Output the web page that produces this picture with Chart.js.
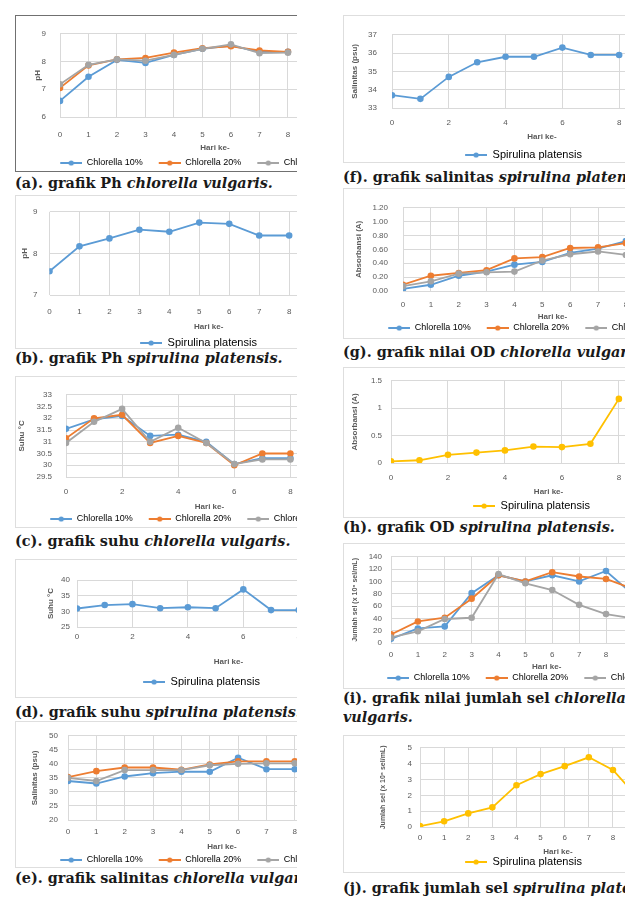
<!DOCTYPE html>
<html lang="id">
<head>
<meta charset="UTF-8">
<script src="https://cdn.jsdelivr.net/npm/chart.js"></script>
<title>Grafik kualitas air chlorella dan spirulina</title>
<style>
  body { margin: 0; width: 640px; height: 904px; background: #fff; position: relative; overflow: hidden; }
  .box { position: absolute; overflow: hidden; box-sizing: border-box; border: 1px solid #dedede; border-right: none; }
  .box canvas { position: absolute; left: -1px; top: -1px; }
  .cap { position: absolute; width: 282px; overflow: hidden; white-space: nowrap; font-family: "DejaVu Serif"; font-weight: bold; font-size: 14.4px; line-height: 19px; color: #1a1a1a; }
</style>
</head>
<body>
<script>
// hari pengamatan
const hari = [0, 1, 2, 3, 4, 5, 6, 7, 8];
const hariSel = [0, 1, 2, 3, 4, 5, 6, 7, 8, 9];

// pH
const phChlorella10 = [6.58, 7.45, 8.06, 7.95, 8.24, 8.46, 8.57, 8.35, 8.35];
const phChlorella20 = [7.05, 7.86, 8.08, 8.13, 8.32, 8.48, 8.55, 8.40, 8.35];
const phChlorella30 = [7.18, 7.88, 8.08, 8.03, 8.24, 8.46, 8.62, 8.30, 8.32];
const phSpirulina = [7.57, 8.17, 8.36, 8.57, 8.52, 8.74, 8.71, 8.43, 8.43];

// suhu (°C)
const suhuChlorella10 = [31.55, 31.95, 32.1, 31.25, 31.3, 31.0, 30.05, 30.3, 30.3];
const suhuChlorella20 = [31.15, 32.0, 32.15, 30.95, 31.25, 30.95, 30.0, 30.5, 30.5];
const suhuChlorella30 = [30.95, 31.85, 32.4, 31.0, 31.6, 30.95, 30.05, 30.25, 30.25];
const suhuSpirulina = [30.9, 32.0, 32.3, 31.0, 31.3, 31.0, 37.0, 30.4, 30.4];

// salinitas (psu)
const salChlorella10 = [33.9, 33.0, 35.5, 36.7, 37.2, 37.2, 42.2, 38.1, 38.1];
const salChlorella20 = [35.3, 37.4, 38.7, 38.7, 37.9, 39.8, 40.9, 40.9, 40.9];
const salChlorella30 = [35.0, 33.9, 37.8, 37.8, 37.8, 39.5, 40.0, 40.2, 40.2];
const salSpirulina = [33.7, 33.5, 34.7, 35.5, 35.8, 35.8, 36.3, 35.9, 35.9];

// OD / absorbansi
const odChlorella10 = [0.03, 0.09, 0.22, 0.28, 0.38, 0.42, 0.55, 0.61, 0.72];
const odChlorella20 = [0.09, 0.22, 0.26, 0.30, 0.47, 0.49, 0.62, 0.63, 0.69];
const odChlorella30 = [0.07, 0.14, 0.25, 0.27, 0.28, 0.44, 0.53, 0.57, 0.52];
const odSpirulina = [0.03, 0.05, 0.15, 0.19, 0.23, 0.30, 0.29, 0.35, 1.17];

// jumlah sel
const selChlorella10 = [6.7, 23.6, 27, 81, 110, 100, 110, 100, 117, 79];
const selChlorella20 = [14, 35, 41, 72, 110, 100, 115, 108, 104, 88];
const selChlorella30 = [9, 19, 39, 41, 112, 97, 86, 62, 47, 40];
const selSpirulina = [0.06, 0.36, 0.86, 1.24, 2.64, 3.34, 3.84, 4.4, 3.6, 1.9];

const BIRU = '#5B9BD5', ORANYE = '#ED7D31', ABU = '#A5A5A5', KUNING = '#FFC000';
const chlorella = (a, b, c) => [
  { label: 'Chlorella 10%', data: a, color: BIRU },
  { label: 'Chlorella 20%', data: b, color: ORANYE },
  { label: 'Chlorella 30%', data: c, color: ABU }
];
const spirulina = (d, color) => [{ label: 'Spirulina platensis', data: d, color: color }];

const panels = [
  { box: [15, 15, 282, 157], dark: true, days: hari, series: chlorella(phChlorella10, phChlorella20, phChlorella30),
    plotL: 60, plotT: 25, plotB: 117, s: 29.1, xStep: 1, y: [6, 9, 1], yPad: 14, yTitle: 'pH', yTitleX: 38, yTitleSize: 8,
    tickY: 135, titleY: 148, legendY: 163, legendX: 60, lf: 9 },
  { box: [15, 195, 282, 154], days: hari, series: spirulina(phSpirulina, BIRU),
    plotL: 49.5, plotT: 208, plotB: 295, s: 30.5, xStep: 1, y: [7, 9, 1], yPad: 12, yTitle: 'pH', yTitleX: 25, yTitleSize: 8,
    tickY: 312, titleY: 327, legendY: 343, legendX: 140, lf: 11 },
  { box: [15, 376, 282, 152], days: hari, series: chlorella(suhuChlorella10, suhuChlorella20, suhuChlorella30),
    plotL: 66, plotT: 383, plotB: 477, s: 28.4, xStep: 2, y: [29.5, 33, 0.5], yPad: 14, yTitle: 'Suhu °C', yTitleX: 22, yTitleSize: 8,
    tickY: 492, titleY: 507, legendY: 519, legendX: 50, lf: 9 },
  { box: [15, 559, 282, 139], days: hari, series: spirulina(suhuSpirulina, BIRU),
    plotL: 77, plotT: 580, plotB: 627, s: 27.7, xStep: 2, y: [25, 40, 5], yPad: 7, yTitle: 'Suhu °C', yTitleX: 51, yTitleSize: 8,
    tickY: 637, titleY: 662, legendY: 682, legendX: 143, lf: 11 },
  { box: [15, 721, 282, 147], days: hari, series: chlorella(salChlorella10, salChlorella20, salChlorella30),
    plotL: 68, plotT: 728, plotB: 820, s: 28.4, xStep: 1, y: [20, 50, 5], yPad: 10, yTitle: 'Salinitas (psu)', yTitleX: 35, yTitleSize: 8,
    tickY: 832, titleY: 847, legendY: 860, legendX: 60, lf: 9 },
  { box: [343, 15, 282, 148], days: hari, series: spirulina(salSpirulina, BIRU),
    plotL: 392, plotT: 32, plotB: 108, s: 28.75, xStep: 2, y: [33, 37, 1], yPad: 15, yTitle: 'Salinitas (psu)', yTitleX: 355, yTitleSize: 8,
    tickY: 123, titleY: 137, legendY: 155, legendX: 465, lf: 11 },
  { box: [343, 188, 282, 151], days: hari, series: chlorella(odChlorella10, odChlorella20, odChlorella30),
    plotL: 403, plotT: 195, plotB: 291, s: 28.1, xStep: 1, y: [0, 1.2, 0.2], yPad: 15, yTitle: 'Absorbansi (A)', yTitleX: 359, yTitleSize: 8,
    tickY: 305, titleY: 317, legendY: 328, legendX: 388, lf: 9, fixed: 2 },
  { box: [343, 367, 282, 151], days: hari, series: spirulina(odSpirulina, KUNING),
    plotL: 391, plotT: 377, plotB: 463, s: 29, xStep: 2, y: [0, 1.5, 0.5], yPad: 9, yTitle: 'Absorbansi (A)', yTitleX: 355, yTitleSize: 8,
    tickY: 478, titleY: 492, legendY: 506, legendX: 473, lf: 11 },
  { box: [343, 543, 282, 146], days: hariSel, series: chlorella(selChlorella10, selChlorella20, selChlorella30),
    plotL: 391, plotT: 550, plotB: 643, s: 26.9, xStep: 1, y: [0, 140, 20], yPad: 9, yTitle: 'Jumlah sel (x 10⁶ sel/mL)', yTitleX: 355, yTitleSize: 7,
    tickY: 655, titleY: 667, legendY: 678, legendX: 387, lf: 9 },
  { box: [343, 735, 282, 138], days: hariSel, series: spirulina(selSpirulina, KUNING),
    plotL: 420, plotT: 742, plotB: 827, s: 24.1, xStep: 1, y: [0, 5, 1], yPad: 8, yTitle: 'Jumlah sel (x 10⁶ sel/mL)', yTitleX: 383, yTitleSize: 7,
    tickY: 838, titleY: 852, legendY: 862, legendX: 465, lf: 11 }
];

const captions = [
  [15, 183, '(a). grafik Ph <i>chlorella vulgaris.</i>'],
  [15, 358, '(b). grafik Ph <i>spirulina platensis.</i>'],
  [15, 541, '(c). grafik suhu <i>chlorella vulgaris.</i>'],
  [15, 712, '(d). grafik suhu <i>spirulina platensis.</i>'],
  [15, 878, '(e). grafik salinitas <i>chlorella vulgaris.</i>'],
  [343, 177, '(f). grafik salinitas <i>spirulina platensis.</i>'],
  [343, 352, '(g). grafik nilai OD <i>chlorella vulgaris.</i>'],
  [343, 527, '(h). grafik OD <i>spirulina platensis.</i>'],
  [343, 698, '(i). grafik nilai jumlah sel <i>chlorella</i>'],
  [343, 717, '<i>vulgaris.</i>'],
  [343, 888, '(j). grafik jumlah sel <i>spirulina platensis.</i>']
];

const FONT = 'Liberation Sans';
const TEKS = '#595959';
const GRID = '#d9d9d9';
const measure = document.createElement('canvas').getContext('2d');

// ikon legenda: garis dengan penanda di tengah
function legendIcon(color) {
  const c = document.createElement('canvas');
  c.width = 30; c.height = 10;
  const g = c.getContext('2d');
  g.strokeStyle = color; g.lineWidth = 2;
  g.beginPath(); g.moveTo(8, 5); g.lineTo(30, 5); g.stroke();
  g.fillStyle = color;
  g.beginPath(); g.arc(19, 5, 2.6, 0, Math.PI * 2); g.fill();
  return c;
}

function makePanel(p) {
  const [bx, by, bw, bh] = p.box;
  const wrap = document.createElement('div');
  wrap.className = 'box';
  wrap.style.left = bx + 'px'; wrap.style.top = by + 'px';
  wrap.style.width = bw + 'px'; wrap.style.height = bh + 'px';
  if (p.dark) wrap.style.borderColor = '#707070';
  document.body.appendChild(wrap);

  const lf = p.lf, lp = 8, iconW = 30, iconPad = 8;
  const legendH = lf + lp + 10;
  const legendTop = p.legendY - by - lp - lf / 2;
  const plotL = p.plotL - bx, plotT = p.plotT - by, plotB = p.plotB - by;

  measure.font = lf + 'px ' + FONT;
  const total = p.series.reduce((t, s) => t + iconW + lf / 2 + measure.measureText(s.label).width + lp, 0);
  const x0 = p.legendX - bx - iconPad;
  const right = 2 * x0 - lp + total;
  const R = 14;
  const W = Math.ceil(right + R);
  const H = Math.max(bh, Math.ceil(legendTop + legendH + 2));
  const B = H - legendTop - legendH;
  const xMax = (right - plotL) / p.s;
  const xAxisH = legendTop - plotB;

  const cv = document.createElement('canvas');
  cv.width = W; cv.height = H;
  cv.style.width = W + 'px'; cv.style.height = H + 'px';
  wrap.appendChild(cv);

  const n = p.series.length;
  new Chart(cv, {
    type: 'line',
    data: {
      datasets: p.series.map((s, i) => ({
        label: s.label,
        data: p.days.map((d, k) => ({ x: d, y: s.data[k] })),
        borderColor: s.color,
        backgroundColor: s.color,
        pointBackgroundColor: s.color,
        pointBorderColor: s.color,
        borderWidth: 1.8,
        pointRadius: 2.4,
        tension: 0,
        order: n - i
      }))
    },
    options: {
      responsive: false,
      animation: false,
      devicePixelRatio: 1,
      layout: { padding: { left: 0, top: plotT, right: R, bottom: B } },
      plugins: {
        tooltip: { enabled: false },
        legend: {
          position: 'bottom',
          labels: {
            usePointStyle: true,
            pointStyleWidth: iconW,
            padding: lp,
            color: TEKS,
            font: { size: lf, family: FONT },
            generateLabels: chart => chart.data.datasets.map((ds, i) => ({
              text: ds.label,
              pointStyle: legendIcon(ds.borderColor),
              fillStyle: ds.borderColor,
              strokeStyle: ds.borderColor,
              lineWidth: 0,
              hidden: false,
              datasetIndex: i
            }))
          }
        }
      },
      scales: {
        x: {
          type: 'linear',
          min: 0,
          max: xMax,
          border: { display: false },
          grid: { color: GRID, drawTicks: false },
          ticks: { stepSize: p.xStep, autoSkip: false, padding: p.tickY - p.plotB - 4.8, color: TEKS, font: { size: 8, family: FONT } },
          title: {
            display: true, text: 'Hari ke-', color: TEKS,
            font: { size: 8, weight: 'bold', family: FONT },
            padding: { top: 0, bottom: legendTop - (p.titleY - by) - 4.8 }
          },
          afterFit: sc => { sc.height = xAxisH; }
        },
        y: {
          min: p.y[0],
          max: p.y[1],
          border: { display: false },
          grid: { color: GRID, drawTicks: false },
          ticks: {
            stepSize: p.y[2], autoSkip: false, padding: p.yPad, color: TEKS, font: { size: 8, family: FONT },
            callback: v => p.fixed ? v.toFixed(p.fixed) : v
          },
          title: {
            display: true, text: p.yTitle, color: TEKS,
            font: { size: p.yTitleSize, weight: 'bold', family: FONT },
            padding: { top: (p.yTitleX - bx) - p.yTitleSize * 0.6, bottom: 0 }
          },
          afterFit: sc => { sc.width = plotL; }
        }
      }
    }
  });
}

panels.forEach(makePanel);

captions.forEach(([x, y, html]) => {
  const d = document.createElement('div');
  d.className = 'cap';
  d.style.left = x + 'px';
  d.style.top = (y - 10) + 'px';
  d.innerHTML = html;
  document.body.appendChild(d);
});
</script>
</body>
</html>
